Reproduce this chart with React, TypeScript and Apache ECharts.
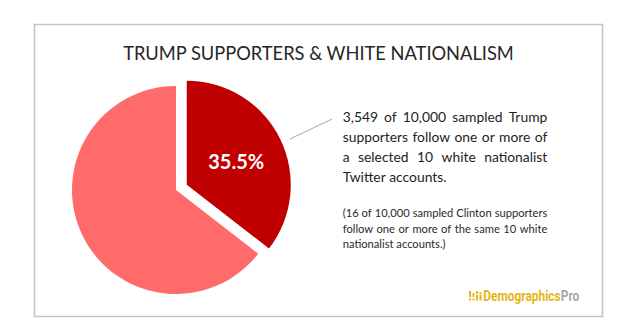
import React, { useEffect, useRef } from "react";
import * as echarts from "echarts";

// Share of sampled Trump supporters following 1+ of 10 white nationalist accounts
const sliceNames = ["Follow one or more accounts", "Follow none"];
const sliceValues = [35.5, 64.5];
const sliceColors = ["#C00000", "#FF6B6B"];

const titleText = "TRUMP SUPPORTERS & WHITE NATIONALISM";
const mainLines = [
  "3,549 of 10,000 sampled Trump",
  "supporters follow one or more of",
  "a selected 10 white nationalist",
  "Twitter accounts.",
];
const noteLines = [
  "(16 of 10,000 sampled Clinton supporters",
  "follow one or more of the same 10 white",
  "nationalist accounts.)",
];
const brandMain = "Demographics";
const brandSuffix = "Pro";

const FONT = "Lato";

function makeMeasurer() {
  const ctx = document.createElement("canvas").getContext("2d")!;
  return (text: string, size: number, weight = "normal", family = FONT) => {
    ctx.font = `${weight} ${size}px "${family}"`;
    return ctx.measureText(text).width;
  };
}

// Lays out a paragraph with justified lines (last line set ragged)
function justified(
  lines: string[],
  left: number,
  right: number,
  top: number,
  lineHeight: number,
  size: number,
  color: string,
  measure: (t: string, s: number, w?: string) => number
) {
  const out: any[] = [];
  const width = right - left;
  const spaceW = measure(" ", size);
  lines.forEach((line, li) => {
    const words = line.split(" ");
    const widths = words.map((w) => measure(w, size));
    const total = widths.reduce((a, b) => a + b, 0);
    const last = li === lines.length - 1;
    const gap = last || words.length < 2 ? spaceW : (width - total) / (words.length - 1);
    let x = left;
    const y = top + li * lineHeight;
    words.forEach((w, wi) => {
      out.push({
        type: "text",
        x,
        y,
        silent: true,
        style: {
          text: w,
          fill: color,
          fontFamily: FONT,
          fontSize: size,
          textVerticalAlign: "middle",
          textAlign: "left",
        },
      });
      x += widths[wi] + gap;
    });
  });
  return out;
}

export default function App() {
  const ref = useRef<HTMLDivElement>(null);

  useEffect(() => {
    if (!ref.current) return;
    const chart = echarts.init(ref.current, null, { renderer: "svg" });
    const measure = makeMeasurer();

    // size the fonts so each string spans its box
    const titleSize = (19 * 391.6) / measure(titleText, 19);
    const mainSize = (14 * 104) / measure(mainLines[mainLines.length - 1], 14);
    const noteSize = (12 * 103) / measure(noteLines[noteLines.length - 1], 12);

    // brand wordmark: bold Roboto squeezed horizontally into a condensed look
    const brandFamily = "Roboto";
    const brandSize = 14;
    const brandW1 = measure(brandMain, brandSize, "bold", brandFamily);
    const brandW2 = measure(brandSuffix, brandSize, "bold", brandFamily);
    const brandScale = 96 / (brandW1 + brandW2);

    // little bar-chart glyph in front of the brand name
    const iconBars = [
      [469, 291, 2, 6],
      [469, 298.5, 2, 2],
      [472.5, 293, 2, 4],
      [472.5, 298.5, 2, 2],
      [476, 291, 2, 3],
      [476, 295, 2, 5.5],
      [479.5, 292, 2, 1.8],
      [479.5, 294.5, 2, 6],
    ];

    const brandText = (text: string, x: number, fill: string) => ({
      type: "text",
      x,
      y: 0,
      silent: true,
      style: {
        text,
        fill,
        fontFamily: brandFamily,
        fontWeight: "bold",
        fontSize: brandSize,
        textVerticalAlign: "middle",
      },
    });

    const graphics: any[] = [
      {
        type: "rect",
        silent: true,
        shape: { x: 34.5, y: 24.5, width: 568, height: 292 },
        style: { fill: "#FFFFFF", stroke: "#C4C4C4", lineWidth: 1.6 },
        z: -10,
      },
      {
        type: "text",
        x: 318.5,
        y: 53,
        silent: true,
        style: {
          text: titleText,
          fill: "#262626",
          fontFamily: FONT,
          fontSize: titleSize,
          textAlign: "center",
          textVerticalAlign: "middle",
        },
      },
      {
        type: "line",
        silent: true,
        shape: { x1: 290, y1: 139, x2: 332, y2: 119 },
        style: { stroke: "#A6A6A6", lineWidth: 1 },
      },
      ...justified(mainLines, 342.7, 547.3, 116.5, 20, mainSize, "#1E1E1E", measure),
      ...justified(noteLines, 342.7, 547.3, 212.5, 15.7, noteSize, "#2A2A2A", measure),
      ...iconBars.map(([x, y, w, h]) => ({
        type: "rect",
        silent: true,
        shape: { x, y, width: w, height: h },
        style: { fill: "#E5B515" },
      })),
      {
        type: "group",
        x: 483.3,
        y: 296,
        scaleX: brandScale,
        children: [
          brandText(brandMain, 0, "#E5B515"),
          brandText(brandSuffix, brandW1, "#A9A9A2"),
        ],
      },
    ];

    chart.setOption({
      animation: false,
      backgroundColor: "#FFFFFF",
      graphic: graphics,
      series: [
        {
          type: "pie",
          center: [176, 190],
          radius: 104,
          startAngle: 90,
          clockwise: true,
          selectedMode: "single",
          selectedOffset: 12,
          silent: true,
          emphasis: { disabled: true },
          labelLine: { show: false },
          label: {
            position: "inside",
            color: "#FFFFFF",
            fontFamily: FONT,
            fontWeight: "bold",
            fontSize: 20,
            formatter: (p: any) => `${Number(p.value).toFixed(1)}%`,
          },
          data: sliceNames.map((name, i) => ({
            name,
            value: sliceValues[i],
            selected: i === 0,
            itemStyle: { color: sliceColors[i] },
            label: { show: i === 0 },
          })),
        },
      ],
    });

    return () => chart.dispose();
  }, []);

  return (
    <div
      ref={ref}
      style={{ position: "fixed", left: 0, top: 0, width: 630, height: 334, background: "#FFFFFF" }}
    />
  );
}
